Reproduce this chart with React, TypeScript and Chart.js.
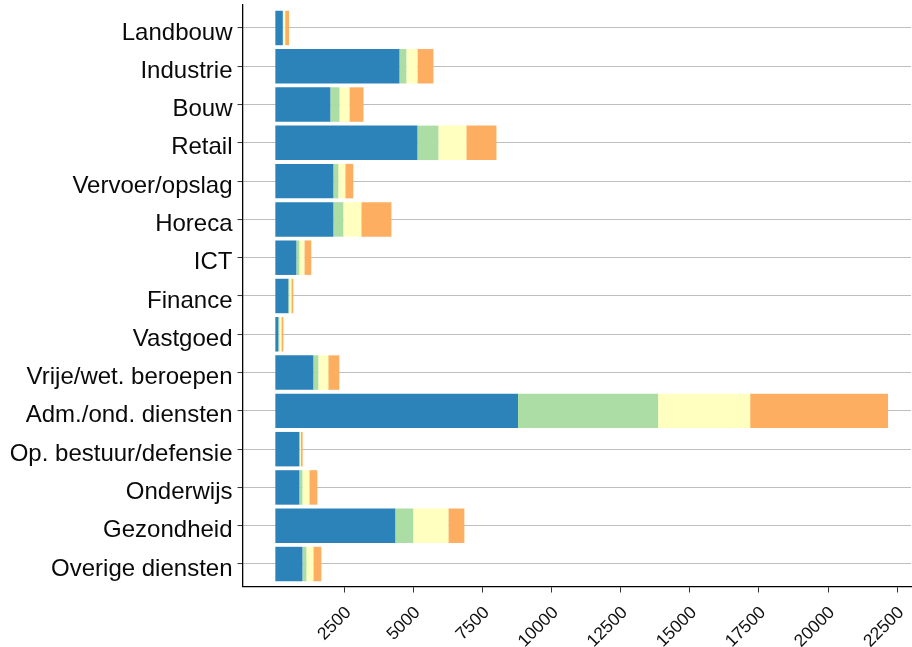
import React, { useEffect, useRef } from "react";
import { Chart, registerables } from "chart.js";

Chart.register(...registerables);

const categories = [
  "Landbouw",
  "Industrie",
  "Bouw",
  "Retail",
  "Vervoer/opslag",
  "Horeca",
  "ICT",
  "Finance",
  "Vastgoed",
  "Vrije/wet. beroepen",
  "Adm./ond. diensten",
  "Op. bestuur/defensie",
  "Onderwijs",
  "Gezondheid",
  "Overige diensten",
];

const seriesBlue = [270, 4490, 1990, 5140, 2100, 2100, 760, 470, 110, 1375, 8780, 870, 870, 4340, 980];
const seriesGreen = [15, 250, 330, 760, 180, 360, 110, 36, 36, 180, 5070, 10, 110, 650, 145];
const seriesYellow = [70, 400, 360, 1010, 250, 650, 180, 72, 72, 360, 3330, 36, 250, 1270, 250];
const seriesOrange = [140, 580, 510, 1090, 290, 1090, 250, 72, 72, 400, 4990, 72, 290, 580, 290];

const seriesColors = ["#2b83ba", "#abdda4", "#ffffbf", "#fdae61"];
const seriesNames = ["s1", "s2", "s3", "s4"];
const xTicks = [2500, 5000, 7500, 10000, 12500, 15000, 17500, 20000, 22500];

export default function App() {
  const ref = useRef<HTMLCanvasElement | null>(null);

  useEffect(() => {
    if (!ref.current) return;
    const all = [seriesBlue, seriesGreen, seriesYellow, seriesOrange];
    const chart = new Chart(ref.current, {
      type: "bar",
      data: {
        datasets: all.map((vals, si) => ({
          label: seriesNames[si],
          data: vals.map((v, i) => ({ x: v, y: i })),
          backgroundColor: seriesColors[si],
          borderWidth: 0,
          barPercentage: 0.9,
          categoryPercentage: 1.0,
        })),
      },
      options: {
        indexAxis: "y",
        animation: false,
        responsive: false,
        devicePixelRatio: 1,
        layout: { padding: { top: 5, right: 1, bottom: 0, left: 0 } },
        plugins: { legend: { display: false }, tooltip: { enabled: false } },
        scales: {
          x: {
            type: "linear",
            stacked: true,
            min: -1170,
            max: 23000,
            afterBuildTicks: (scale: any) => {
              scale.ticks = xTicks.map((v) => ({ value: v }));
            },
            afterFit: (scale: any) => {
              scale.height = 60;
              scale.paddingLeft = 0;
              scale.paddingRight = 0;
            },
            grid: {
              drawOnChartArea: false,
              drawTicks: true,
              tickLength: 5.5,
              tickColor: "#333333",
              tickWidth: 1,
            },
            border: { display: true, color: "#000000", width: 1.3 },
            ticks: {
              autoSkip: false,
              minRotation: 45,
              maxRotation: 45,
              padding: 10,
              labelOffset: 4,
              color: "#111111",
              font: { family: "'Liberation Sans', Arial, sans-serif", size: 17.5 },
              callback: (v: any) => String(v),
            },
          },
          y: {
            type: "linear",
            stacked: true,
            reverse: true,
            offset: false,
            min: -0.6,
            max: 14.6,
            afterBuildTicks: (scale: any) => {
              scale.ticks = categories.map((_, i) => ({ value: i }));
            },
            afterFit: (scale: any) => {
              scale.width = 243;
              scale.paddingTop = 0;
              scale.paddingBottom = 0;
            },
            grid: {
              offset: false,
              drawOnChartArea: true,
              color: "#bebebe",
              lineWidth: 1.1,
              drawTicks: true,
              tickLength: 5.5,
              tickColor: "#333333",
              tickWidth: 1,
            },
            border: { display: true, color: "#000000", width: 1.3 },
            ticks: {
              autoSkip: false,
              padding: 5,
              labelOffset: 5,
              color: "#0a0a0a",
              font: { family: "'Liberation Sans', Arial, sans-serif", size: 24 },
              callback: (v: any) => categories[v] ?? "",
            },
          },
        },
      },
    });
    return () => chart.destroy();
  }, []);

  return (
    <div style={{ position: "absolute", left: 0, top: 0, width: 912, height: 647, background: "#ffffff" }}>
      <canvas ref={ref} width={912} height={647} style={{ width: 912, height: 647, display: "block" }} />
    </div>
  );
}
